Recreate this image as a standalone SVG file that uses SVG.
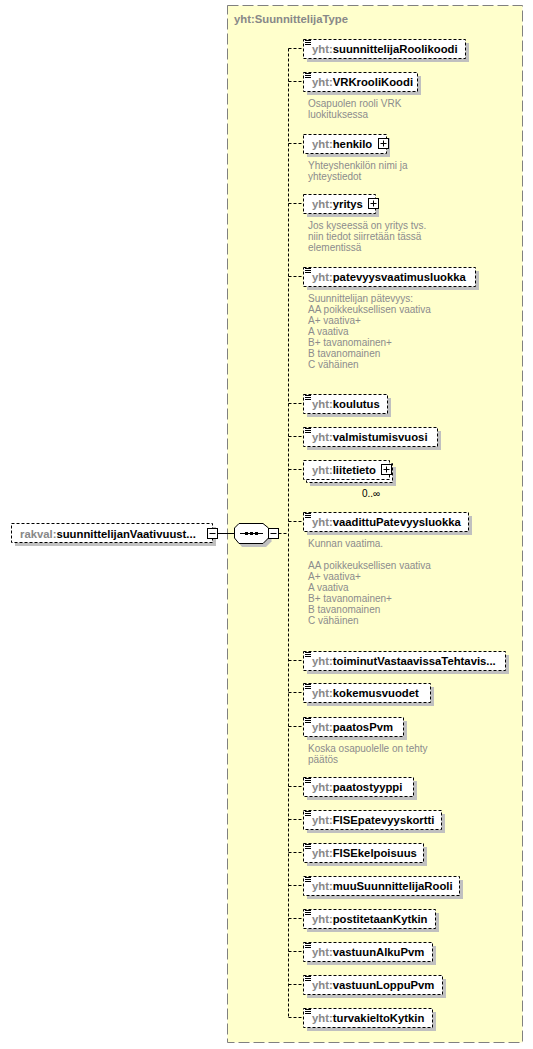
<svg xmlns="http://www.w3.org/2000/svg" width="533" height="1049" viewBox="0 0 533 1049">
<style>
.bg{fill:#fff}
.ct{fill:#ffffcc;stroke:#808080;stroke-width:1;stroke-dasharray:11 4}
.sh{fill:#c0c0c0}
.bx{fill:#fff;stroke:#000;stroke-width:1;stroke-dasharray:3 2}
.nm{font-family:"Liberation Sans",Arial,sans-serif;font-weight:bold;font-size:11.3px;fill:#000}
.px{fill:#888}
.tt{font-family:"Liberation Sans",Arial,sans-serif;font-weight:bold;font-size:11.3px;fill:#888}
.ds{font-family:"Liberation Sans",Arial,sans-serif;font-size:10px;fill:#8c8c8c}
.oc{font-family:"Liberation Sans",Arial,sans-serif;font-size:10px;fill:#000}
.cn{stroke:#000;stroke-width:1;stroke-dasharray:3 2;fill:none}
.ln{stroke:#000;stroke-width:1;fill:none}
.ic{fill:#fff;stroke:#000;stroke-width:1}
</style>
<defs>
<g id="eq"><path d="M305 0.5H311M305 2.5H311M305 4.5H311" stroke="#000" stroke-width="1" fill="none"/></g>
</defs>
<rect class="bg" x="0" y="0" width="533" height="1049"/>
<g id="container">
<rect class="ct" x="227.5" y="5.5" width="295" height="1037"/>
<text class="tt" x="234" y="23">yht:SuunnittelijaType</text>
</g>
<g id="connectors">
<path class="ln" d="M217 533.5H234.5"/>
<path class="cn" d="M278.5 533.5H288.5"/>
<path class="cn" d="M288.5 48.5V1017.5"/>
<path class="cn" d="M288.5 48.5H303M288.5 81.5H303M288.5 143.5H303M288.5 203.5H303M288.5 276.5H303M288.5 403.5H303M288.5 436.5H303M288.5 469.5H303M288.5 521.5H303M288.5 660.5H303M288.5 692.5H303M288.5 726.5H303M288.5 786.5H303M288.5 819.5H303M288.5 852.5H303M288.5 885.5H303M288.5 918.5H303M288.5 951.5H303M288.5 984.5H303M288.5 1017.5H303"/>
</g>
<g id="root">
<rect class="sh" x="15" y="527" width="201" height="19"/>
<rect class="bx" x="11.5" y="523.5" width="201" height="19"/>
<text class="nm" x="20" y="537.5"><tspan class="px">rakval:</tspan>suunnittelijanVaativuust...</text>
<rect class="ic" x="207.5" y="528.5" width="10" height="10"/>
<path class="ln" d="M209.5 533.5H215.5"/>
</g>
<g id="sequence">
<polygon class="sh" points="242,527 266,527 271.5,531.5 271.5,541.5 266,547 242,547 237.5,541.5 237.5,531.5"/>
<polygon fill="#fff" stroke="#000" points="239,523.5 263,523.5 268.5,528 268.5,538 263,543.5 239,543.5 234.5,538 234.5,528"/>
<path class="ln" d="M240 533.5H263"/>
<rect x="245" y="532" width="3" height="3" fill="#000"/>
<rect x="250" y="532" width="3" height="3" fill="#000"/>
<rect x="255" y="532" width="3" height="3" fill="#000"/>
<rect class="ic" x="268.5" y="528.5" width="10" height="10"/>
<path class="ln" d="M270.5 533.5H276.5"/>
</g>
<g id="e1">
<rect class="sh" x="307" y="43" width="162" height="19"/>
<rect class="bx" x="303.5" y="39.5" width="162" height="19"/>
<use href="#eq" y="40"/>
<text class="nm" x="312" y="53"><tspan class="px">yht:</tspan>suunnittelijaRoolikoodi</text>
</g>
<g id="e2">
<rect class="sh" x="307" y="76" width="114" height="19"/>
<rect class="bx" x="303.5" y="72.5" width="114" height="19"/>
<use href="#eq" y="73"/>
<text class="nm" x="312" y="86"><tspan class="px">yht:</tspan>VRKrooliKoodi</text>
<text class="ds" x="308" y="107"><tspan x="308">Osapuolen rooli VRK</tspan><tspan x="308" dy="11">luokituksessa</tspan></text>
</g>
<g id="e3">
<rect class="sh" x="307" y="138" width="83" height="19"/>
<rect class="bx" x="303.5" y="134.5" width="83" height="19"/>
<text class="nm" x="312" y="148"><tspan class="px">yht:</tspan>henkilo</text>
<rect class="ic" x="378.5" y="138.5" width="10" height="10"/>
<path class="ln" d="M380.5 143.5H386.5M383.5 140.5V146.5"/>
<text class="ds" x="308" y="169"><tspan x="308">Yhteyshenkilön nimi ja</tspan><tspan x="308" dy="11">yhteystiedot</tspan></text>
</g>
<g id="e4">
<rect class="sh" x="307" y="198" width="72" height="19"/>
<rect class="bx" x="303.5" y="194.5" width="72" height="19"/>
<text class="nm" x="312" y="208"><tspan class="px">yht:</tspan>yritys</text>
<rect class="ic" x="368.5" y="198.5" width="10" height="10"/>
<path class="ln" d="M370.5 203.5H376.5M373.5 200.5V206.5"/>
<text class="ds" x="308" y="229"><tspan x="308">Jos kyseessä on yritys tvs.</tspan><tspan x="308" dy="11">niin tiedot siirretään tässä</tspan><tspan x="308" dy="11">elementissä</tspan></text>
</g>
<g id="e5">
<rect class="sh" x="307" y="271" width="172" height="19"/>
<rect class="bx" x="303.5" y="267.5" width="172" height="19"/>
<use href="#eq" y="268"/>
<text class="nm" x="312" y="281"><tspan class="px">yht:</tspan>patevyysvaatimusluokka</text>
<text class="ds" x="308" y="302"><tspan x="308">Suunnittelijan pätevyys:</tspan><tspan x="308" dy="11">AA poikkeuksellisen vaativa</tspan><tspan x="308" dy="11">A+ vaativa+</tspan><tspan x="308" dy="11">A  vaativa</tspan><tspan x="308" dy="11">B+ tavanomainen+</tspan><tspan x="308" dy="11">B tavanomainen</tspan><tspan x="308" dy="11">C vähäinen</tspan></text>
</g>
<g id="e6">
<rect class="sh" x="307" y="398" width="84" height="19"/>
<rect class="bx" x="303.5" y="394.5" width="84" height="19"/>
<use href="#eq" y="395"/>
<text class="nm" x="312" y="408"><tspan class="px">yht:</tspan>koulutus</text>
</g>
<g id="e7">
<rect class="sh" x="307" y="431" width="134" height="19"/>
<rect class="bx" x="303.5" y="427.5" width="134" height="19"/>
<use href="#eq" y="428"/>
<text class="nm" x="312" y="441"><tspan class="px">yht:</tspan>valmistumisvuosi</text>
</g>
<g id="e8">
<rect class="sh" x="310" y="467" width="86" height="19"/>
<rect class="bx" x="306.5" y="463.5" width="86" height="19"/>
<rect class="bx" x="303.5" y="460.5" width="86" height="19"/>
<text class="nm" x="312" y="474"><tspan class="px">yht:</tspan>liitetieto</text>
<rect class="ic" x="381.5" y="464.5" width="10" height="10"/>
<path class="ln" d="M383.5 469.5H389.5M386.5 466.5V472.5"/>
<text class="oc" x="362" y="497">0..∞</text>
</g>
<g id="e9">
<rect class="sh" x="307" y="516" width="165" height="19"/>
<rect class="bx" x="303.5" y="512.5" width="165" height="19"/>
<use href="#eq" y="513"/>
<text class="nm" x="312" y="526"><tspan class="px">yht:</tspan>vaadittuPatevyysluokka</text>
<text class="ds" x="308" y="547"><tspan x="308">Kunnan vaatima.</tspan><tspan x="308" dy="22">AA poikkeuksellisen vaativa</tspan><tspan x="308" dy="11">A+ vaativa+</tspan><tspan x="308" dy="11">A  vaativa</tspan><tspan x="308" dy="11">B+ tavanomainen+</tspan><tspan x="308" dy="11">B tavanomainen</tspan><tspan x="308" dy="11">C vähäinen</tspan></text>
</g>
<g id="e10">
<rect class="sh" x="307" y="655" width="202" height="19"/>
<rect class="bx" x="303.5" y="651.5" width="202" height="19"/>
<use href="#eq" y="652"/>
<text class="nm" x="312" y="665"><tspan class="px">yht:</tspan>toiminutVastaavissaTehtavis...</text>
</g>
<g id="e11">
<rect class="sh" x="307" y="687" width="127" height="19"/>
<rect class="bx" x="303.5" y="683.5" width="127" height="19"/>
<use href="#eq" y="684"/>
<text class="nm" x="312" y="697"><tspan class="px">yht:</tspan>kokemusvuodet</text>
</g>
<g id="e12">
<rect class="sh" x="307" y="721" width="100" height="19"/>
<rect class="bx" x="303.5" y="717.5" width="100" height="19"/>
<use href="#eq" y="718"/>
<text class="nm" x="312" y="731"><tspan class="px">yht:</tspan>paatosPvm</text>
<text class="ds" x="308" y="752"><tspan x="308">Koska osapuolelle on tehty</tspan><tspan x="308" dy="11">päätös</tspan></text>
</g>
<g id="e13">
<rect class="sh" x="307" y="781" width="110" height="19"/>
<rect class="bx" x="303.5" y="777.5" width="110" height="19"/>
<use href="#eq" y="778"/>
<text class="nm" x="312" y="791"><tspan class="px">yht:</tspan>paatostyyppi</text>
</g>
<g id="e14">
<rect class="sh" x="307" y="814" width="138" height="19"/>
<rect class="bx" x="303.5" y="810.5" width="138" height="19"/>
<use href="#eq" y="811"/>
<text class="nm" x="312" y="824"><tspan class="px">yht:</tspan>FISEpatevyyskortti</text>
</g>
<g id="e15">
<rect class="sh" x="307" y="847" width="120" height="19"/>
<rect class="bx" x="303.5" y="843.5" width="120" height="19"/>
<use href="#eq" y="844"/>
<text class="nm" x="312" y="857"><tspan class="px">yht:</tspan>FISEkelpoisuus</text>
</g>
<g id="e16">
<rect class="sh" x="307" y="880" width="156" height="19"/>
<rect class="bx" x="303.5" y="876.5" width="156" height="19"/>
<use href="#eq" y="877"/>
<text class="nm" x="312" y="890"><tspan class="px">yht:</tspan>muuSuunnittelijaRooli</text>
</g>
<g id="e17">
<rect class="sh" x="307" y="913" width="132" height="19"/>
<rect class="bx" x="303.5" y="909.5" width="132" height="19"/>
<use href="#eq" y="910"/>
<text class="nm" x="312" y="923"><tspan class="px">yht:</tspan>postitetaanKytkin</text>
</g>
<g id="e18">
<rect class="sh" x="307" y="946" width="129" height="19"/>
<rect class="bx" x="303.5" y="942.5" width="129" height="19"/>
<use href="#eq" y="943"/>
<text class="nm" x="312" y="956"><tspan class="px">yht:</tspan>vastuunAlkuPvm</text>
</g>
<g id="e19">
<rect class="sh" x="307" y="979" width="139" height="19"/>
<rect class="bx" x="303.5" y="975.5" width="139" height="19"/>
<use href="#eq" y="976"/>
<text class="nm" x="312" y="989"><tspan class="px">yht:</tspan>vastuunLoppuPvm</text>
</g>
<g id="e20">
<rect class="sh" x="307" y="1012" width="129" height="19"/>
<rect class="bx" x="303.5" y="1008.5" width="129" height="19"/>
<use href="#eq" y="1009"/>
<text class="nm" x="312" y="1022"><tspan class="px">yht:</tspan>turvakieltoKytkin</text>
</g>
</svg>
